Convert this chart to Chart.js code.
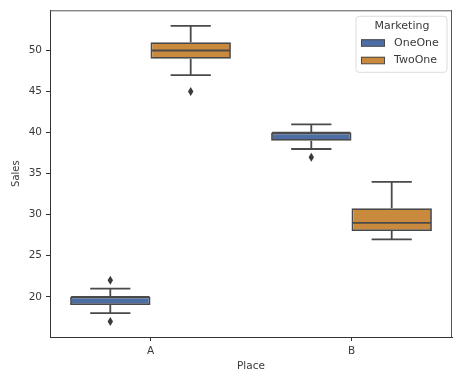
<!DOCTYPE html>
<html>
<head>
<meta charset="utf-8">
<script src="https://cdn.jsdelivr.net/npm/chart.js@4/dist/chart.umd.min.js"></script>
<style>
  html, body { margin: 0; padding: 0; background: #fff; }
  #wrap { width: 465px; height: 377px; position: relative; }
</style>
</head>
<body>
<div id="wrap"><canvas id="c" width="465" height="377"></canvas></div>
<script>
// ---- data ----
const categories = ['A', 'B'];
const seriesNames = ['OneOne', 'TwoOne'];
const yTickValues = [20, 25, 30, 35, 40, 45, 50];

const oneOneMin    = [18, 38];
const oneOneQ1     = [19, 39];
const oneOneMedian = [20, 40];
const oneOneQ3     = [20, 40];
const oneOneMax    = [21, 41];
const oneOneOutliers = [[17, 22], [37]];

const twoOneMin    = [47, 27];
const twoOneQ1     = [49, 28];
const twoOneMedian = [50, 29];
const twoOneQ3     = [51, 30.8];
const twoOneMax    = [53, 34];
const twoOneOutliers = [[45], []];

// ---- styles ----
const COLORS = ['#4c6ea5', '#c98a3e'];
const LINE = '#4a4a4a';
const TEXT = '#3a3a3a';
const FONT = 'DejaVu Sans';

const stats = [
  { min: oneOneMin, q1: oneOneQ1, med: oneOneMedian, q3: oneOneQ3, max: oneOneMax, out: oneOneOutliers },
  { min: twoOneMin, q1: twoOneQ1, med: twoOneMedian, q3: twoOneQ3, max: twoOneMax, out: twoOneOutliers }
];

const boxPlugin = {
  id: 'boxParts',
  afterDatasetsDraw(chart) {
    const ctx = chart.ctx;
    const y = chart.scales.y;
    ctx.save();
    stats.forEach((s, di) => {
      const meta = chart.getDatasetMeta(di);
      meta.data.forEach((bar, j) => {
        const cx = bar.x, w = bar.width;
        const ymax = y.getPixelForValue(s.max[j]), ymin = y.getPixelForValue(s.min[j]);
        ctx.strokeStyle = LINE;
        ctx.lineWidth = 1.8;
        ctx.lineCap = 'butt';
        ctx.beginPath();
        // whiskers
        ctx.moveTo(cx, y.getPixelForValue(s.q3[j])); ctx.lineTo(cx, ymax);
        ctx.moveTo(cx, y.getPixelForValue(s.q1[j])); ctx.lineTo(cx, ymin);
        // caps
        ctx.moveTo(cx - w / 4, ymax); ctx.lineTo(cx + w / 4, ymax);
        ctx.moveTo(cx - w / 4, ymin); ctx.lineTo(cx + w / 4, ymin);
        ctx.stroke();
        // median
        const ym = y.getPixelForValue(s.med[j]);
        ctx.beginPath();
        ctx.moveTo(cx - w / 2 + 1, ym); ctx.lineTo(cx + w / 2 - 1, ym);
        ctx.stroke();
        // outliers (thin diamonds)
        ctx.fillStyle = '#3a3a3a';
        s.out[j].forEach(v => {
          const py = y.getPixelForValue(v);
          ctx.beginPath();
          ctx.moveTo(cx, py - 4.5);
          ctx.lineTo(cx + 2.7, py);
          ctx.lineTo(cx, py + 4.5);
          ctx.lineTo(cx - 2.7, py);
          ctx.closePath();
          ctx.fill();
        });
      });
    });
    ctx.restore();
  },
  afterDraw(chart) {
    const ctx = chart.ctx;
    const a = chart.chartArea;
    ctx.save();
    // top/right spines
    ctx.lineWidth = 1;
    ctx.strokeStyle = '#555';
    ctx.beginPath();
    ctx.moveTo(a.left, a.top + 0.5); ctx.lineTo(a.right, a.top + 0.5);
    ctx.moveTo(a.right - 0.5, a.top); ctx.lineTo(a.right - 0.5, a.bottom);
    ctx.stroke();

    // legend
    const lw = 91, lh = 56;
    const lx = a.right - 5 - lw, ly = a.top + 6;
    ctx.beginPath();
    const r = 3;
    ctx.moveTo(lx + r, ly);
    ctx.arcTo(lx + lw, ly, lx + lw, ly + lh, r);
    ctx.arcTo(lx + lw, ly + lh, lx, ly + lh, r);
    ctx.arcTo(lx, ly + lh, lx, ly, r);
    ctx.arcTo(lx, ly, lx + lw, ly, r);
    ctx.closePath();
    ctx.fillStyle = 'rgba(255,255,255,0.8)';
    ctx.fill();
    ctx.strokeStyle = '#dcdcdc';
    ctx.lineWidth = 1;
    ctx.stroke();

    ctx.fillStyle = TEXT;
    ctx.font = '11px "' + FONT + '"';
    ctx.textAlign = 'center';
    ctx.textBaseline = 'middle';
    ctx.fillText('Marketing', lx + lw / 2 + 0.5, ly + 9.5);
    ctx.textAlign = 'left';
    chart.data.datasets.forEach((ds, i) => {
      const ry = ly + 26.5 + i * 17.5;
      ctx.fillStyle = ds.backgroundColor;
      ctx.fillRect(lx + 5, ry - 3.5, 24, 7);
      ctx.strokeStyle = LINE;
      ctx.lineWidth = 1;
      ctx.strokeRect(lx + 5.5, ry - 3, 23, 6.5);
      ctx.fillStyle = TEXT;
      ctx.fillText(ds.label, lx + 38, ry);
    });
    ctx.restore();
  }
};

new Chart(document.getElementById('c'), {
  type: 'bar',
  data: {
    labels: categories,
    datasets: seriesNames.map((name, i) => ({
      label: name,
      data: categories.map((_, j) => [stats[i].q1[j], stats[i].q3[j]]),
      backgroundColor: COLORS[i],
      borderColor: LINE,
      borderWidth: 1.8,
      borderSkipped: false,
      categoryPercentage: 0.8,
      barPercentage: 1.0
    }))
  },
  options: {
    responsive: false,
    animation: false,
    devicePixelRatio: 1,
    layout: { padding: { top: 10, right: 13, left: 0, bottom: 0 } },
    plugins: { legend: { display: false }, tooltip: { enabled: false } },
    scales: {
      x: {
        grid: { display: true, offset: false, drawOnChartArea: false, drawTicks: true, tickLength: 4, color: '#333' },
        border: { display: true, color: '#333', width: 1 },
        ticks: { color: TEXT, font: { family: FONT, size: 10.5 }, padding: 4 },
        title: { display: true, text: 'Place', color: TEXT, font: { family: FONT, size: 10.5 }, padding: { top: 0, bottom: 4 } },
        afterFit(s) { s.height = 40; }
      },
      y: {
        min: 15.1,
        max: 54.9,
        grid: { display: true, drawOnChartArea: false, drawTicks: true, tickLength: 4, color: '#333' },
        border: { display: true, color: '#333', width: 1 },
        ticks: { color: TEXT, font: { family: FONT, size: 10.5 }, padding: 4 },
        afterBuildTicks(s) { s.ticks = yTickValues.map(v => ({ value: v })); },
        title: { display: true, text: 'Sales', color: TEXT, font: { family: FONT, size: 10 }, padding: { top: 10, bottom: 0 } },
        afterFit(s) { s.width = 50; }
      }
    }
  },
  plugins: [boxPlugin]
});
</script>
</body>
</html>
